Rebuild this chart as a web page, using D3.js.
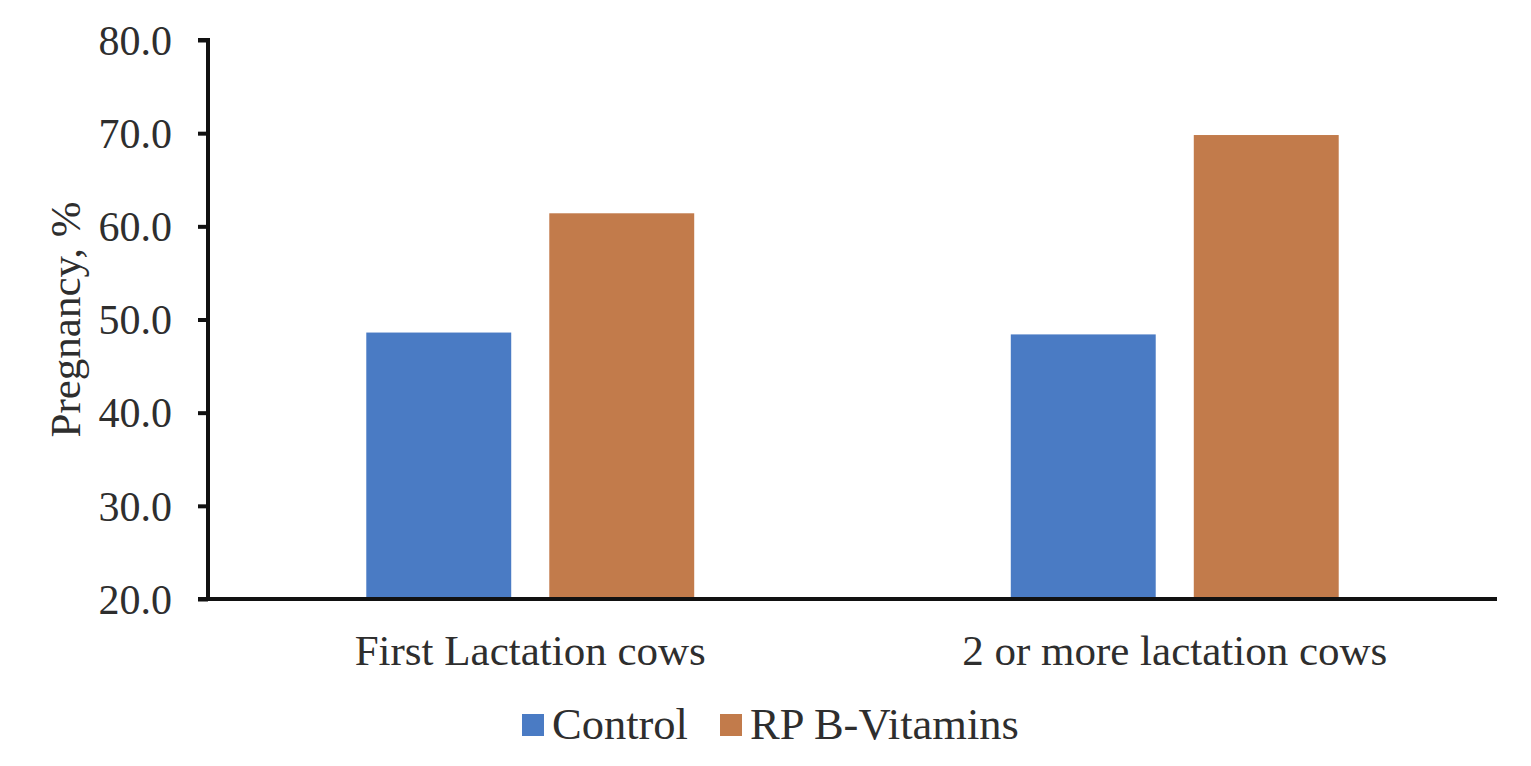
<!DOCTYPE html>
<html><head><meta charset="utf-8">
<script src="https://cdn.jsdelivr.net/npm/d3@7"></script>
<style>body{margin:0;background:#fff}svg{display:block}svg text{font-family:"Liberation Serif","Times New Roman","DejaVu Serif",serif !important}</style>
</head><body>
<script>
const categories = ["First Lactation cows", "2 or more lactation cows"];
const seriesNames = ["Control", "RP B-Vitamins"];
const control = [48.6, 48.4];
const rpVitamins = [61.4, 69.8];
const yTicks = [20, 30, 40, 50, 60, 70, 80];
const colors = ["#4a7bc4", "#c27b4b"];

const W = 1531, H = 766;
const m = {left: 208, right: 34, top: 40, bottom: 167};
const svg = d3.select("body").append("svg").attr("width", W).attr("height", H);
const textColor = "#2e2e2e";

const x0 = d3.scaleBand().domain(categories).range([m.left, W - m.right]);
const x1 = d3.scaleBand().domain(seriesNames).range([0, x0.bandwidth()]).paddingInner(0.208).paddingOuter(0.865);
const y = d3.scaleLinear().domain([20, 80]).range([H - m.bottom, m.top]);

const data = categories.map((c, i) => ({cat: c, vals: [control[i], rpVitamins[i]]}));

const g = svg.append("g");
data.forEach(d => {
  d.vals.forEach((v, j) => {
    g.append("rect")
      .attr("x", x0(d.cat) + x1(seriesNames[j]))
      .attr("y", y(v))
      .attr("width", x1.bandwidth())
      .attr("height", y(20) - y(v))
      .attr("fill", colors[j]);
  });
});

// Y axis
const yAxis = svg.append("g").attr("transform", `translate(${m.left},0)`)
  .call(d3.axisLeft(y).tickValues(yTicks).tickFormat(d3.format(".1f")).tickSize(10).tickPadding(26));
yAxis.attr("font-family", null);
yAxis.select(".domain").attr("stroke", "#111").attr("stroke-width", 4).attr("d", `M-10,${y(80)}H0V${y(20)}`);
yAxis.selectAll(".tick line").attr("stroke", "#111").attr("stroke-width", 4);
yAxis.selectAll("text").attr("font-size", 42).attr("fill", textColor).attr("dy", "0.34em");

// X axis
svg.append("line").attr("x1", m.left - 10).attr("x2", W - m.right).attr("y1", y(20)).attr("y2", y(20))
  .attr("stroke", "#111").attr("stroke-width", 4);
svg.selectAll(".xlab").data(categories).enter().append("text")
  .attr("x", d => x0(d) + x0.bandwidth() / 2).attr("y", 665)
  .attr("text-anchor", "middle").attr("font-size", 43).attr("fill", textColor)
  .text(d => d);

// Y title
svg.append("text").attr("transform", `translate(80,${(y(20) + y(80)) / 2}) rotate(-90)`)
  .attr("text-anchor", "middle").attr("font-size", 43).attr("fill", textColor)
  .text("Pregnancy, %");

// Legend
const legX = [522, 720];
seriesNames.forEach((s, j) => {
  svg.append("rect").attr("x", legX[j]).attr("y", 714).attr("width", 22).attr("height", 22).attr("fill", colors[j]);
  svg.append("text").attr("x", legX[j] + 30).attr("y", 739).attr("font-size", 44.5)
    .attr("fill", textColor).text(s);
});
</script>
</body></html>
